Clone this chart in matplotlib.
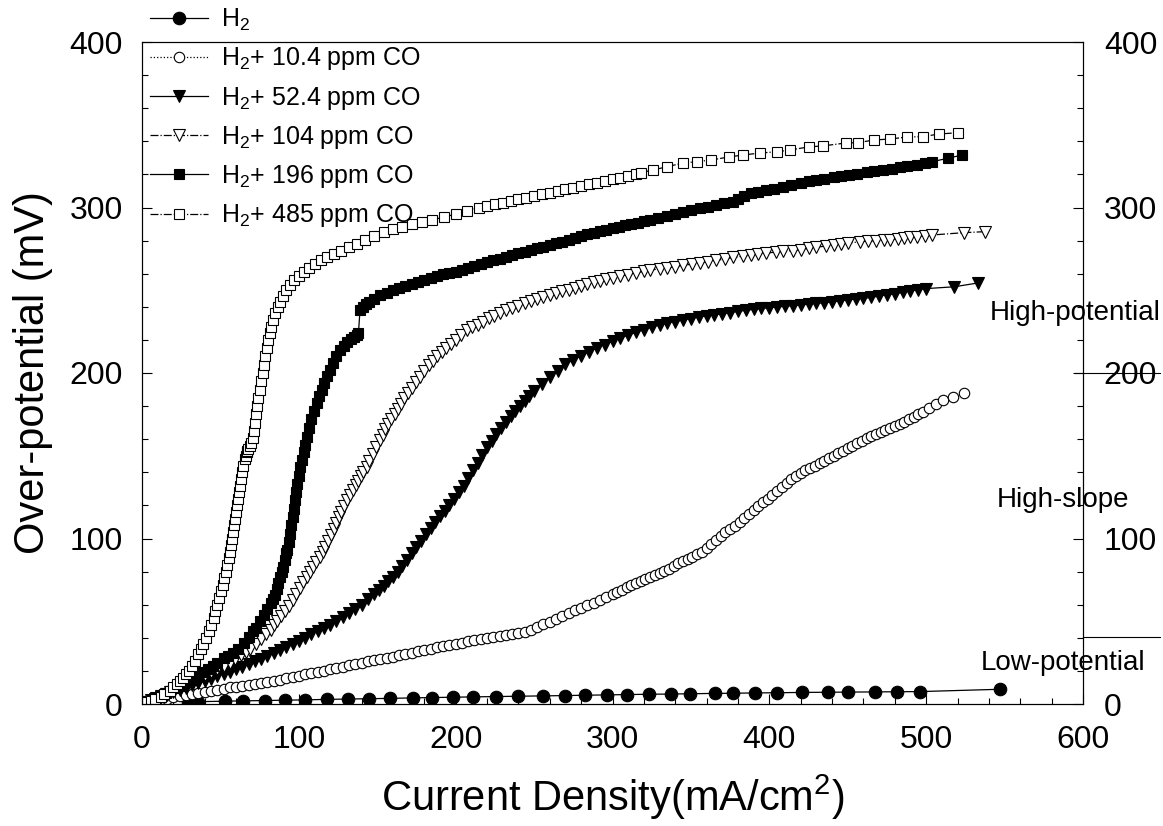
import matplotlib
matplotlib.use('Agg')
import matplotlib.pyplot as plt
import matplotlib.transforms as mtransforms
from matplotlib.ticker import MultipleLocator

plt.rcParams['font.family'] = 'Liberation Sans'
plt.rcParams['mathtext.fontset'] = 'custom'
plt.rcParams['mathtext.rm'] = 'Liberation Sans'
plt.rcParams['mathtext.it'] = 'Liberation Sans:italic'

# valeurs : densite de courant (mA/cm2) / surtension (mV)
x_h2 = [29.5, 36, 53, 64.5, 78.5, 91, 104, 118, 131.5, 145, 158, 173, 185, 198.5, 211, 226,
        240, 256, 270, 282.5, 296.5, 309.5, 323, 337, 349.5, 365.5, 377, 391, 405, 421,
        437.5, 450, 467.5, 481.5, 496, 547]
y_h2 = [1.2, 1.4, 1.7, 1.9, 2.1, 2.3, 2.5, 2.8, 3.0, 3.2, 3.4, 3.7, 3.9, 4.1, 4.3, 4.5,
        4.7, 4.9, 5.1, 5.3, 5.5, 5.7, 5.9, 6.0, 6.2, 6.4, 6.5, 6.7, 6.8, 7.0,
        7.1, 7.2, 7.3, 7.4, 7.5, 8.9]

x_co10 = [0, 4, 8, 12, 16, 20, 24, 28, 32, 36, 40, 44, 48, 52, 56, 60, 64, 68, 72, 76,
          80, 84, 88, 92, 96, 100, 104, 108, 112, 116, 120, 124, 128, 132, 136, 140, 144, 148, 152, 156,
          160, 164, 168, 172, 176, 180, 184, 188, 192, 196, 200, 204, 208, 212, 216, 220, 224, 228, 232, 236,
          240, 244, 248, 252, 256, 260, 264, 268, 272, 276, 280, 284, 288, 292, 296, 300,
          303, 306, 309, 312, 315, 318, 321, 324, 327, 330, 333, 336, 339, 342, 345, 348, 351, 354, 357, 360,
          363, 366, 369, 372, 375, 378, 381, 384, 387, 390, 393, 396, 399, 402, 405, 408, 411, 414, 417, 420,
          423, 426, 429, 432, 435, 438, 441, 444, 447, 450, 453, 456, 459, 462, 465, 468, 471, 474, 477, 480,
          483, 486, 489, 492, 495, 498, 502, 506, 511, 517, 524]
y_co10 = [0, 0.8, 1.6, 2.4, 3.2, 4, 4.7, 5.3, 6, 6.7, 7.3, 8, 8.7, 9.3, 10, 10.5, 11, 11.7, 12.2, 12.7,
          13.4, 14.1, 14.8, 15.6, 16.3, 17.2, 18, 18.8, 19.5, 20.2, 20.9, 21.8, 22.6, 23.5, 24.2, 25, 25.7, 26.3, 27, 27.8,
          28.6, 29.4, 30.2, 31, 31.8, 32.6, 33.4, 34.2, 35, 35.7, 36.2, 36.9, 37.8, 38.6, 39.3, 40, 40.5, 41.2, 41.8, 42.3,
          42.9, 43.8, 44.9, 46.6, 48.1, 49.8, 51.6, 53.3, 55.1, 56.6, 58, 59.7, 61.3, 62.8, 64.6, 66.3,
          67.5, 69, 70.5, 71.8, 73.1, 74.3, 75.6, 76.8, 78.1, 79.3, 80.4, 81.8, 83.5, 85, 86.5, 87.7, 89, 90.4, 92, 94.2,
          96.6, 99, 101.4, 103.7, 105.7, 107.8, 110.2, 112.6, 115, 117.4, 119.7, 121.9, 124, 126.3, 128.6, 131, 133.4, 135.7, 137.8, 139.8,
          141.1, 142.5, 144, 145.5, 147, 148.5, 150, 151.5, 153, 154.5, 156, 157.5, 159, 160.5, 162, 163.2, 164.4, 165.6, 166.8, 168,
          169.2, 170.5, 172, 173.5, 175, 176.5, 178.8, 181, 183.7, 185.5, 187.7]

x_co52 = [0, 4, 8, 12, 16, 20, 24, 28, 32, 36, 40, 44, 48, 52, 56, 60, 64, 68, 72, 76,
          80, 84, 88, 92, 96, 100, 104, 108, 112, 116, 120, 124, 128, 132, 136, 140, 144, 148,
          151, 154, 157, 160, 163, 166, 169, 172, 175, 178, 181, 184, 187, 190, 193, 196, 199, 202, 205, 208,
          211, 214, 217, 220, 223, 226, 229, 232, 235, 238, 241, 244, 247, 250,
          255, 260, 265, 270, 275, 280, 285, 290, 295, 300, 305, 310, 315, 320, 325, 330, 335, 340, 345, 350,
          355, 360, 365, 370, 375, 380, 385, 390, 395, 400, 405, 410, 415, 420, 425, 430, 435, 440, 445, 450,
          455, 460, 465, 470, 475, 480, 485, 490, 495, 500, 518, 533]
y_co52 = [0, 1.4, 2.8, 4.2, 5.6, 7, 8.4, 9.8, 11.2, 12.6, 14, 15.4, 16.8, 18.2, 19.6, 21, 22.6, 24.2, 25.8, 27.4,
          29, 30.8, 32.6, 34.4, 36.2, 38, 40, 42, 44, 46, 48, 50.4, 52.8, 55.2, 57.6, 60, 63.3, 66.6,
          69.1, 71.6, 74.3, 77, 80, 83.5, 87.2, 91, 94.8, 98.7, 102.7, 106.3, 109.8, 113.3, 116.8, 120.3, 123.8, 127.8, 132, 136.8,
          141.4, 145.6, 150.2, 155, 159.2, 163.2, 167, 170.3, 173.8, 177, 180, 183, 186, 188.9,
          193.1, 197.4, 201.5, 205.3, 208, 210.5, 212.8, 215.1, 217.2, 219.2, 221.1, 222.9, 224.6, 226.2, 227.7, 229, 230.2, 231.1, 232, 232.9,
          233.8, 234.5, 235.2, 235.8, 236.5, 237.2, 237.9, 238.5, 239, 239.5, 239.9, 240.3, 240.7, 241.1, 241.6, 242, 242.5, 243, 243.6, 244.2,
          244.6, 245.1, 245.7, 246.5, 247.2, 247.9, 248.7, 249.6, 250.4, 251, 252.1, 254.4]

x_co104 = [0, 3, 6, 9, 12, 15, 18, 21, 24, 28, 32, 36, 40, 44, 48, 52, 56, 59.5, 63, 66,
           69, 72.5, 76, 79, 82, 84, 86, 88.5, 91, 93.5, 96, 98.3, 100.7, 102.8, 105, 107, 109, 111.2, 113.5, 115.2,
           117, 118.8, 120.5, 122.3, 124, 125.5, 127, 129, 131, 132.8, 134.5, 136.2, 138, 139.5, 141, 143.3, 145, 147, 149.5, 151.8,
           153.4, 155, 157, 159, 161, 163, 165, 167, 169.5, 172, 174.5, 177, 180, 183, 185.5, 188, 191, 194, 197, 200,
           203.5, 207, 210.5, 214, 217.5, 221, 224.5, 228,
           232, 236, 240, 244, 248, 252, 256, 260, 264, 268, 272, 276, 280, 284, 288, 292, 296, 300, 305, 310,
           315, 320, 324, 330, 335, 340, 345, 351, 356, 361, 366, 372, 377, 383, 388, 393, 398, 404, 409, 415,
           420, 425, 430, 436, 441, 446, 450, 458, 463, 468, 473, 477, 482, 486, 490, 494, 499, 504, 524, 537.5]
y_co104 = [0, 1.2, 2.5, 3.8, 5, 6.2, 7.5, 9, 10.5, 12.2, 14, 15.8, 17.5, 19.2, 21, 23, 25, 27.2, 29.5, 31.5,
           33.5, 36.2, 39, 42, 45, 47.5, 50, 53, 56, 59.5, 63, 66.5, 70, 73.5, 77, 80, 83, 86, 89, 92,
           95, 98.5, 102, 105.7, 109.4, 112.7, 116, 119.5, 123, 126.2, 129.3, 132.2, 135, 137.5, 140, 143.4, 147, 151, 155.3, 159.5,
           162.8, 166, 169, 172, 175, 178, 181.5, 185, 188, 191, 194.4, 197.8, 201.5, 205, 207.5, 210, 212.5, 215, 217.5, 220,
           223, 226, 227.5, 229, 231, 233, 234.7, 236.3,
           237.8, 239.3, 240.7, 242.1, 243.4, 244.7, 246, 247.1, 248.2, 249.3, 250.4, 251.6, 252.7, 253.8, 254.7, 255.7, 256.6, 257.5, 258.5, 259.5,
           260.5, 261.4, 262.2, 262.9, 263.5, 264.3, 265, 265.8, 266.5, 267.2, 268, 269, 269.8, 270.6, 271.2, 271.8, 272.5, 273, 273.5, 274,
           274.5, 275.3, 276, 276.7, 277.3, 278, 278.5, 279.3, 279.7, 280, 280.2, 280.4, 281, 281.5, 282, 282.4, 282.9, 283.4, 284.8, 285.4]

x_co196 = [0, 3, 6, 9, 12, 15, 18, 21, 24, 27, 30, 33, 36, 39, 42, 45, 48, 52, 55, 58,
           61, 65, 68, 71, 73, 75.5, 78, 80, 82, 83.5, 85, 86, 87, 88, 89, 90, 91, 92, 92.5, 93.5,
           94.5, 95.2, 96, 96.8, 97.6, 98.3, 99, 99.8, 100.7, 101.8, 103, 104, 105, 106.5, 108, 109.7, 111.4, 113, 114.5, 116,
           118, 120, 122, 124, 126.3, 128.5, 131, 133, 135, 137, 138,
           139, 141, 143, 145, 148, 152, 156, 160, 164, 168, 172, 176, 180, 184, 188, 192, 196, 200, 204, 208,
           212, 216, 220, 224, 228, 232, 236, 240, 244, 248, 252, 256, 260, 264, 268, 272, 276, 280, 284, 288,
           292, 296, 300, 304, 308, 312, 316, 320, 324,
           329, 335, 340, 345, 350, 356, 361, 366, 371, 377, 380, 384, 388, 393, 398, 403, 409, 414, 420, 425,
           430, 435, 441, 446, 451, 456, 462, 467, 472.5, 478, 483, 488, 494, 499, 504, 514, 523]
y_co196 = [0, 1.2, 2.4, 3.6, 4.8, 6.5, 8, 9.5, 11, 12.5, 14.3, 16, 17.8, 19.5, 21.2, 23, 25, 27.5, 29.2, 31,
           33.5, 37, 40.5, 44, 46, 50, 54, 57.5, 61, 63.5, 66, 69.5, 73, 76.5, 79.8, 83, 87, 91, 93, 98,
           103, 108, 113, 118, 123, 128, 133, 138, 143, 147.5, 152, 156.7, 161.5, 166.7, 172, 177, 182, 186, 190, 194,
           198, 202, 206, 210, 214, 216.5, 219, 220.5, 222, 223, 224,
           238, 240, 241.5, 243, 245, 247, 248.5, 250, 251.2, 252.4, 253.6, 254.8, 256, 257.2, 258.4, 259.6, 260.5, 261.3, 262.3, 263.5,
           264.6, 265.8, 266.9, 268, 269, 270, 271.2, 272.3, 273.3, 274.4, 275.5, 276.3, 277.3, 278.4, 279.4, 280.5, 281.5, 282.6, 283.7, 284.7,
           285.6, 286.6, 287.5, 288.3, 289.2, 290, 290.8, 291.6, 292.4,
           293.7, 295, 296.3, 297.5, 298.5, 299.5, 300.5, 301.5, 302.5, 303.5, 305, 307, 308.5, 309.5, 310.3, 311.3, 312.6, 313.8, 315, 315.8,
           316.6, 317.4, 318.3, 319, 319.6, 320.4, 321.3, 322, 322.7, 323.4, 324.2, 325, 325.7, 326.6, 327.7, 329.8, 331.7]

x_co485 = [0, 3.3, 6, 8.5, 12, 14, 18, 20, 22, 24, 26, 28, 30, 31.8, 33.6, 36, 37.5, 39, 41, 42.6,
           44.2, 45.6, 46.8, 48, 49.2, 50.4, 51.5, 52.5, 53.5, 54.5, 55.5, 56.3, 56.9, 57.5, 58.1, 58.7, 59.3, 59.9, 60.5, 61.1,
           61.7, 62.3, 62.9, 63.5, 64.5, 65.5, 66, 66.7, 67.2, 67.8, 69, 69.8, 70.7, 71.3, 72, 72.8, 73.5, 74.2, 75, 76,
           77, 77.7, 78.5, 79.5, 80.5, 81.5, 82.5, 83.7, 85, 86.6, 88,
           90, 92, 94.5, 97, 100, 103, 106.5, 110, 114, 118, 122.5, 127, 132, 137, 142.5, 148, 154, 160, 166, 172,
           178.5, 185, 192.5, 200, 207.5, 215,
           220, 225, 230, 235, 240, 245, 250, 255, 260, 265, 270, 275, 280, 285, 290, 295, 300, 305, 310, 315, 318,
           326, 335, 345, 354, 363, 374, 383, 394, 405, 413, 425, 434, 449, 456.5, 467, 477, 488, 498, 508, 520.5]
y_co485 = [0, 1, 2, 3, 4.5, 6, 8, 10, 12, 14, 16, 18, 20, 23, 26, 30, 33, 36, 40, 44,
           48, 52, 56, 60, 64, 68, 72, 76, 80, 84, 88, 92, 96, 100, 104, 108, 112, 116, 120, 124,
           128, 132, 136, 140, 144, 148, 150, 152, 153, 154, 156, 158, 161, 165, 170, 175, 180, 185, 190, 195,
           200, 205, 210, 215, 220, 224, 228, 232, 236, 240, 243,
           246.5, 250, 253, 256, 258.5, 261, 263.5, 266, 268, 270, 272, 274, 276, 278, 280.5, 283, 285, 287, 288.5, 290,
           291.2, 292.5, 294.2, 296, 298, 300,
           301, 302, 303, 304, 305, 306, 307, 308, 309, 310, 311, 312, 313, 314, 315, 316, 317, 318, 319.2, 320.4, 321,
           322.7, 324.7, 326.9, 327.7, 328.7, 330.5, 331.7, 332.9, 333.7, 334.7, 336.6, 337.2, 339, 339.2, 340.8, 341.4, 342.6, 342.8, 344.4, 345.2]

labels = [r'H$_2$', r'H$_2$+ 10.4 ppm CO', r'H$_2$+ 52.4 ppm CO',
          r'H$_2$+ 104 ppm CO', r'H$_2$+ 196 ppm CO', r'H$_2$+ 485 ppm CO']

W, H = 1163, 826
fig = plt.figure(figsize=(W / 100, H / 100), dpi=100)
ax = fig.add_axes([142 / W, 1 - 704 / H, 941 / W, 662 / H])

series = [
    (x_h2, y_h2, 'o', 'black', '-', 9.0),
    (x_co10, y_co10, 'o', 'white', ':', 7.5),
    (x_co52, y_co52, 'v', 'black', '-', 8.0),
    (x_co104, y_co104, 'v', 'white', '-.', 8.0),
    (x_co196, y_co196, 's', 'black', '-', 7.2),
    (x_co485, y_co485, 's', 'white', '-.', 7.2),
]
for (xs, ys, m, fc, ls, ms), lab in zip(series, labels):
    ax.plot(xs, ys, color='black', linestyle=ls, linewidth=0.9, marker=m, markersize=ms,
            markerfacecolor=fc, markeredgecolor='black', markeredgewidth=0.8, label=lab)

ax.xaxis.set_major_locator(MultipleLocator(100))
ax.xaxis.set_minor_locator(MultipleLocator(20))
ax.yaxis.set_major_locator(MultipleLocator(100))
ax.yaxis.set_minor_locator(MultipleLocator(20))
ax.tick_params(which='both', direction='in', top=False, right=False, labelsize=23, width=0.8)
ax.tick_params(which='major', length=7)
ax.tick_params(which='minor', length=4)
ax.tick_params(axis='x', pad=15)
ax.tick_params(axis='y', pad=14)
for s in ax.spines.values():
    s.set_linewidth(0.8)

ax.set_xlabel('Current Density(mA/cm$^2$)', fontsize=30, labelpad=13)
ax.set_ylabel('Over-potential (mV)', fontsize=30, labelpad=12)

leg = ax.legend(loc='upper left', bbox_to_anchor=(150 / W, 1 - 7 / H), bbox_transform=fig.transFigure,
                frameon=False, fontsize=18, handlelength=2.3, handletextpad=0.55, labelspacing=0.49,
                borderpad=0, borderaxespad=0, numpoints=1)

# axe de droite
ax2 = ax.twinx()
ax2.set_ylim(0, 400)
ax2.yaxis.set_major_locator(MultipleLocator(100))
ax2.yaxis.set_minor_locator(MultipleLocator(20))
ax2.tick_params(which='both', direction='in', labelsize=23, width=0.8, pad=15)
ax2.tick_params(which='major', length=7)
ax2.tick_params(which='minor', length=4)
for s in ax2.spines.values():
    s.set_linewidth(0.8)

# zones a droite
tr = mtransforms.blended_transform_factory(ax.transAxes, ax.transData)
ax.text(0.9915, 236, 'High-potential', transform=tr, ha='center', va='center', fontsize=20, clip_on=False, zorder=5)
ax.text(0.9787, 123, 'High-slope', transform=tr, ha='center', va='center', fontsize=20, clip_on=False, zorder=5)
ax.text(0.9787, 25, 'Low-potential', transform=tr, ha='center', va='center', fontsize=20, clip_on=False, zorder=5)
ax.plot([0.9915, 1.0818], [200, 200], transform=tr, color='black', lw=0.8, clip_on=False)
ax.plot([1.0, 1.0818], [40.5, 40.5], transform=tr, color='black', lw=0.8, clip_on=False)

ax.set_xlim(0, 600)
ax.set_ylim(0, 400)

fig.savefig('out.png', dpi=100)
